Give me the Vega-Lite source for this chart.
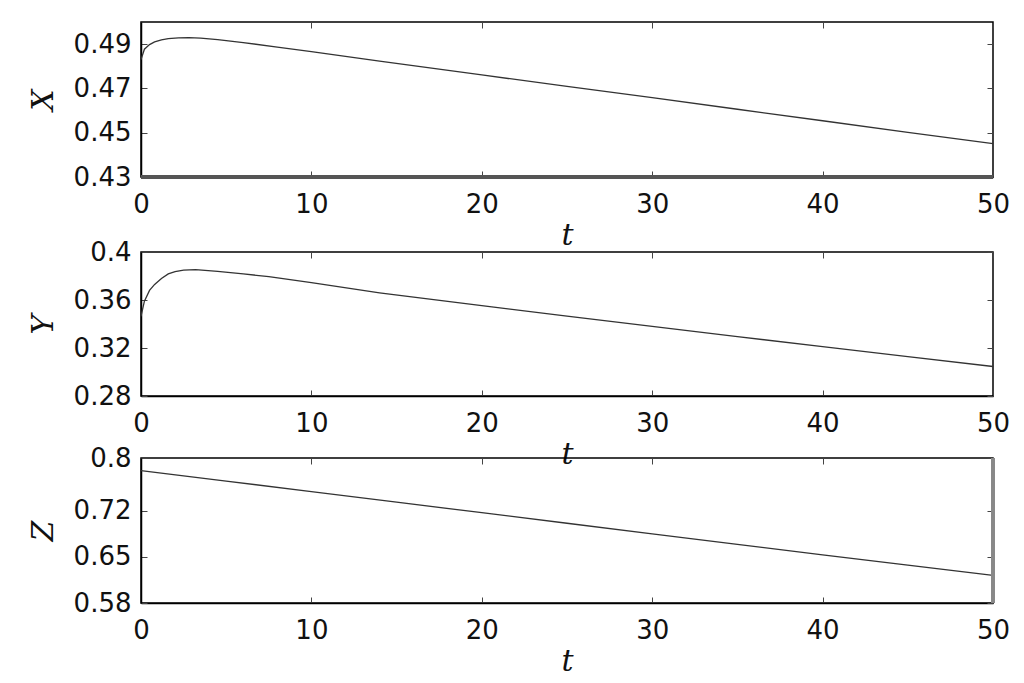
{
  "$schema": "https://vega.github.io/schema/vega-lite/v6.json",
  "background": "white",
  "padding": {"left": 27, "top": 20, "right": 10, "bottom": 5},
  "config": {
    "view": {"stroke": "#000", "strokeWidth": 1.5},
    "axis": {
      "grid": false,
      "domainColor": "#000",
      "domainWidth": 1.5,
      "tickColor": "#444",
      "tickSize": -6,
      "tickWidth": 1,
      "labelFlush": false,
      "labelOverlap": false,
      "labelFont": "DejaVu Sans",
      "labelFontSize": 26,
      "labelColor": "#111",
      "titleFont": "DejaVu Serif",
      "titleFontStyle": "italic",
      "titleFontWeight": "normal",
      "titleFontSize": 30,
      "titleColor": "#111"
    }
  },
  "datasets": {
    "X": [
      {"t": 0, "v": 0.4830}, {"t": 0.2, "v": 0.4877}, {"t": 0.5, "v": 0.4898}, {"t": 0.8, "v": 0.4910},
      {"t": 1.2, "v": 0.4919}, {"t": 1.6, "v": 0.4925}, {"t": 2.2, "v": 0.4928}, {"t": 2.8, "v": 0.4929},
      {"t": 3.5, "v": 0.4927}, {"t": 4.5, "v": 0.4920}, {"t": 6, "v": 0.4907}, {"t": 8, "v": 0.4887},
      {"t": 10, "v": 0.4866}, {"t": 14, "v": 0.4823}, {"t": 20, "v": 0.4761}, {"t": 25, "v": 0.4709},
      {"t": 30, "v": 0.4658}, {"t": 35, "v": 0.4606}, {"t": 40, "v": 0.4554}, {"t": 45, "v": 0.4502},
      {"t": 50, "v": 0.4451}
    ],
    "Y": [
      {"t": 0, "v": 0.3464}, {"t": 0.2, "v": 0.3590}, {"t": 0.5, "v": 0.3680}, {"t": 0.8, "v": 0.3730},
      {"t": 1.2, "v": 0.3780}, {"t": 1.6, "v": 0.3818}, {"t": 2.0, "v": 0.3836}, {"t": 2.5, "v": 0.3849},
      {"t": 3.2, "v": 0.3853}, {"t": 4.5, "v": 0.3839}, {"t": 6, "v": 0.3818}, {"t": 7.5, "v": 0.3794},
      {"t": 10, "v": 0.3744}, {"t": 14, "v": 0.3660}, {"t": 20, "v": 0.3553}, {"t": 25, "v": 0.3466},
      {"t": 30, "v": 0.3380}, {"t": 35, "v": 0.3295}, {"t": 40, "v": 0.3211}, {"t": 45, "v": 0.3128},
      {"t": 50, "v": 0.3046}
    ],
    "Z": [
      {"t": 0, "v": 0.781}, {"t": 5, "v": 0.765}, {"t": 10, "v": 0.749}, {"t": 15, "v": 0.733},
      {"t": 20, "v": 0.717}, {"t": 25, "v": 0.701}, {"t": 30, "v": 0.685}, {"t": 35, "v": 0.669},
      {"t": 40, "v": 0.653}, {"t": 45, "v": 0.6375}, {"t": 50, "v": 0.622}
    ]
  },
  "spacing": 75,
  "bounds": "flush",
  "vconcat": [
    {
      "width": 852,
      "height": 155,
      "data": {"name": "X"},
      "layer": [
        {
          "mark": {"type": "line", "color": "#333", "strokeWidth": 1.3},
          "encoding": {
            "x": {"field": "t", "type": "quantitative", "scale": {"domain": [0, 50], "nice": false, "zero": false},
                  "axis": {"values": [0, 10, 20, 30, 40, 50], "title": "t", "titleX": 426, "titleY": 67, "titleBaseline": "alphabetic", "labelPadding": 20}},
            "y": {"field": "v", "type": "quantitative", "scale": {"domain": [0.43, 0.5], "nice": false, "zero": false},
                  "axis": {"values": [0.43, 0.45, 0.47, 0.49], "format": ".2~f", "title": "X", "titleX": -89, "titleBaseline": "alphabetic", "labelPadding": 16}}
          }
        },
        {
          "mark": {"type": "line", "opacity": 0},
          "encoding": {
            "x": {"field": "t", "type": "quantitative", "axis": {"orient": "top", "values": [0, 10, 20, 30, 40, 50], "labels": false, "title": null, "domain": false}},
            "y": {"field": "v", "type": "quantitative", "axis": {"orient": "right", "values": [0.43, 0.45, 0.47, 0.49], "labels": false, "title": null, "domain": false}}
          }
        },
        {
          "mark": {"type": "rule", "color": "#555", "strokeWidth": 3},
          "encoding": {"y": {"datum": 0.43, "type": "quantitative", "axis": null}}
        }
      ],
      "resolve": {"axis": {"x": "independent", "y": "independent"}}
    },
    {
      "spacing": 62,
      "bounds": "flush",
      "vconcat": [
        {
          "width": 852,
          "height": 144,
          "data": {"name": "Y"},
          "layer": [
            {
              "mark": {"type": "line", "color": "#333", "strokeWidth": 1.3},
              "encoding": {
                "x": {"field": "t", "type": "quantitative", "scale": {"domain": [0, 50], "nice": false, "zero": false},
                      "axis": {"values": [0, 10, 20, 30, 40, 50], "title": "t", "titleX": 426, "titleY": 67, "titleBaseline": "alphabetic", "labelPadding": 20}},
                "y": {"field": "v", "type": "quantitative", "scale": {"domain": [0.28, 0.4], "nice": false, "zero": false},
                      "axis": {"values": [0.28, 0.32, 0.36, 0.4], "format": ".2~f", "title": "Y", "titleX": -89, "titleBaseline": "alphabetic", "labelPadding": 16}}
              }
            },
            {
              "mark": {"type": "line", "opacity": 0},
              "encoding": {
                "x": {"field": "t", "type": "quantitative", "axis": {"orient": "top", "values": [0, 10, 20, 30, 40, 50], "labels": false, "title": null, "domain": false}},
                "y": {"field": "v", "type": "quantitative", "axis": {"orient": "right", "values": [0.28, 0.32, 0.36, 0.4], "labels": false, "title": null, "domain": false}}
              }
            }
          ],
          "resolve": {"axis": {"x": "independent", "y": "independent"}}
        },
        {
          "width": 852,
          "height": 145,
          "data": {"name": "Z"},
          "layer": [
            {
              "mark": {"type": "line", "color": "#333", "strokeWidth": 1.3},
              "encoding": {
                "x": {"field": "t", "type": "quantitative", "scale": {"domain": [0, 50], "nice": false, "zero": false},
                      "axis": {"values": [0, 10, 20, 30, 40, 50], "title": "t", "titleX": 426, "titleY": 67, "titleBaseline": "alphabetic", "labelPadding": 20}},
                "y": {"field": "v", "type": "quantitative", "scale": {"domain": [0.58, 0.8], "nice": false, "zero": false},
                      "axis": {"values": [0.58, 0.65, 0.72, 0.8], "format": ".2~f", "title": "Z", "titleX": -89, "titleBaseline": "alphabetic", "labelPadding": 16}}
              }
            },
            {
              "mark": {"type": "line", "opacity": 0},
              "encoding": {
                "x": {"field": "t", "type": "quantitative", "axis": {"orient": "top", "values": [0, 10, 20, 30, 40, 50], "labels": false, "title": null, "domain": false}},
                "y": {"field": "v", "type": "quantitative", "axis": {"orient": "right", "values": [0.58, 0.65, 0.72, 0.8], "labels": false, "title": null, "domain": false}}
              }
            },
            {
              "mark": {"type": "rule", "color": "#888", "strokeWidth": 3},
              "encoding": {"x": {"datum": 50, "type": "quantitative", "axis": null}}
            }
          ],
          "resolve": {"axis": {"x": "independent", "y": "independent"}}
        }
      ]
    }
  ]
}
